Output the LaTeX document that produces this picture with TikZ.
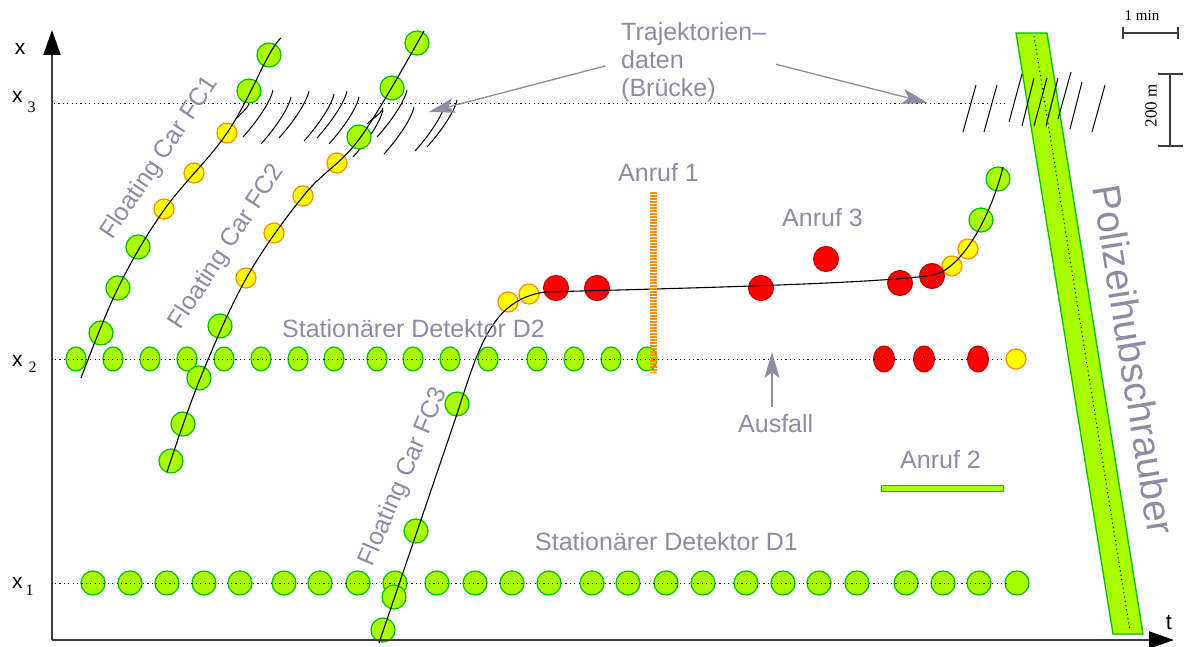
\documentclass[tikz,border=0pt]{standalone}
\usepackage{fontspec}
\setmainfont{Liberation Sans}
\newfontfamily\seriffam{Liberation Serif}
\usetikzlibrary{arrows.meta,shapes.geometric}
\definecolor{gfill}{RGB}{170,255,0}
\definecolor{gline}{RGB}{0,190,0}
\definecolor{yfill}{RGB}{255,255,0}
\definecolor{yline}{RGB}{255,140,0}
\definecolor{rfill}{RGB}{255,0,0}
\definecolor{rline}{RGB}{180,0,0}
\definecolor{lblgray}{RGB}{140,140,162}
\definecolor{axisgray}{RGB}{60,60,60}
\begin{document}
\begin{tikzpicture}[x=1pt,y=-1pt,
  gdot/.style={circle,draw=gline,fill=gfill,line width=1.2pt,minimum size=24pt,inner sep=0pt},
  ydot/.style={circle,draw=yline,fill=yfill,line width=1.2pt,minimum size=20pt,inner sep=0pt},
  rdot/.style={circle,draw=rline,fill=rfill,line width=1pt,minimum size=25pt,inner sep=0pt},
  gell/.style={ellipse,draw=gline,fill=gfill,line width=1.2pt,minimum width=20pt,minimum height=24pt,inner sep=0pt},
  rell/.style={ellipse,draw=rline,fill=rfill,line width=1pt,minimum width=21pt,minimum height=26pt,inner sep=0pt},
  lbl/.style={text=lblgray,font=\fontsize{25}{28}\selectfont,inner sep=0pt},
  axlbl/.style={text=black,font=\fontsize{21}{21}\selectfont,inner sep=0pt},
  dotline/.style={line width=1pt,dash pattern=on 1.2pt off 3.2pt},
  hatch/.style={line width=1pt},
  trajline/.style={line width=1.1pt},
  axis/.style={line width=2pt,draw=axisgray,-{Triangle[length=25pt,width=17pt,color=black]}},
  garrow/.style={draw=lblgray,line width=1.3pt,-{Stealth[length=26pt,width=15pt,inset=6pt]}},
  scalebar/.style={draw=axisgray,line width=1.3pt},
  heli/.style={draw=gline,fill=gfill,line width=1.3pt}
]
\useasboundingbox (0,0) rectangle (1186,647);

% helicopter
\filldraw[heli] (1016,33) -- (1047,33) -- (1143,634) -- (1113,634) -- cycle;
\draw[dotline] (1034,36) -- (1130,631);

% trajectory hatches (bridge)
\foreach \hx/\hy in {243/137,261/144,279/138,304/141,317/138,329/144,353/157,377/137,384/154,415/151,427/147}
  \draw[hatch] (\hx,\hy) .. controls +(10,-11) and +(-3,14) .. +(30,-47);
\draw[hatch] (237,118) .. controls +(4,-5) and +(-2,5) .. (249,104);
\draw[hatch] (367,124) .. controls +(5,-5) and +(-2,6) .. (383,108);
\foreach \ax/\ay/\bx/\by in {963/132/976/85,984/132/997/85,1009/122/1022/74,1022/126/1034/78,1034/126/1047/78,1046/126/1058/78,1058/119/1071/72,1070/129/1082/82,1092/132/1105/85}
  \draw[hatch] (\ax,\ay) -- (\bx,\by);

% detector D1 (x1)
\foreach \x [count=\i] in {93,130,167,204,240,284,320,358,395,437,475,512,549,592,628,666,703,746,783,819,857,906,943,979,1017}
  \node[gdot] (da\i) at (\x,583) {};
% detector D2 (x2)
\foreach \x [count=\i] in {76,113,150,187,224,261,298,334,377,413,450,488,537,574,611,647}
  \node[gell] (db\i) at (\x,359) {};
\foreach \x [count=\i] in {884,924,978}
  \node[rell] (dr\i) at (\x,359) {};
\node[ydot] (dy1) at (1016,359) {};

% FC1
\foreach \x/\y [count=\i] in {101/333,118/288,138/247,249/91,269/55}
  \node[gdot] (fa\i) at (\x,\y) {};
\foreach \x/\y [count=\i] in {164/209,194/173,227/133}
  \node[ydot] (fay\i) at (\x,\y) {};
% FC2
\foreach \x/\y [count=\i] in {171/461,183/424,199/378,220/326,359/137,392/88,417/43}
  \node[gdot] (fb\i) at (\x,\y) {};
\foreach \x/\y [count=\i] in {246/278,274/233,303/196,337/163}
  \node[ydot] (fby\i) at (\x,\y) {};
% FC3
\foreach \x/\y [count=\i] in {383/630,394/597,416/531,457/404,981/220,998/179}
  \node[gdot] (fc\i) at (\x,\y) {};
\foreach \x/\y [count=\i] in {508/302,529/294,952/266,968/249}
  \node[ydot] (fcy\i) at (\x,\y) {};
\foreach \x/\y [count=\i] in {556/288,597/288,761/288,826/259,900/283,932/276}
  \node[rdot] (fcr\i) at (\x,\y) {};

% trajectories
\draw[trajline] plot[smooth,tension=0.6] coordinates {(81,378) (118,288) (164,210) (227,133) (269,55) (281,38)};
\draw[trajline] plot[smooth,tension=0.6] coordinates {(167,472) (200,379) (247,277) (305,194) (360,138) (424,31)};
\draw[trajline] (379,643) -- (455,420) .. controls (478,350) and (490,300) .. (545,292)
  .. controls (650,289) and (880,284) .. (933,275) .. controls (960,270) and (990,220) .. (1003,167);

% position lines
\draw[dotline] (55,583) -- (1008,583);
\draw[dotline] (55,359) -- (1005,359);
\draw[dotline] (54,104) -- (1005,104);

% Anruf 1 marker
\draw[draw=yline,line width=7pt,dash pattern=on 1.6pt off 1.4pt] (653.5,192) -- (653.5,373);
% Anruf 2 marker
\node[draw=gline,fill=gfill,line width=1.2pt,minimum width=122pt,minimum height=6pt,inner sep=0pt] (anruf2bar) at (942.5,488.5) {};

% axes
\coordinate (O) at (52,640);
\coordinate (Xtip) at (52,30);
\coordinate (Ttip) at (1174,640);
\draw[axis] (O) -- (Xtip);
\draw[axis] (O) -- (Ttip);
\node[axlbl] (xlab) at (20,49) {x};
\node[axlbl,anchor=base west] (x3lab) at (12,103) {x\hspace{5pt}\raisebox{-10pt}{\seriffam\fontsize{16}{16}\selectfont 3}};
\node[axlbl,anchor=base west] (x2lab) at (12,366) {x\hspace{6pt}\raisebox{-6pt}{\seriffam\fontsize{16}{16}\selectfont 2}};
\node[axlbl,anchor=base west] (x1lab) at (12,588) {x\hspace{3pt}\raisebox{-7pt}{\seriffam\fontsize{16}{16}\selectfont 1}};
\node[axlbl,font=\fontsize{22}{22}\selectfont] (tlab) at (1169,622) {t};

% scale bars
\draw[scalebar] (1123,27) -- (1123,39);
\draw[scalebar] (1178,27) -- (1178,39);
\draw[scalebar] (1123,33) -- (1178,33);
\node[inner sep=0pt,font=\seriffam\fontsize{15}{15}\selectfont] (minlab) at (1142,16) {1 min};
\draw[scalebar] (1158,74) -- (1183,74);
\draw[scalebar] (1158,146) -- (1183,146);
\draw[scalebar] (1170,74) -- (1170,146);
\node[inner sep=0pt,rotate=90,font=\seriffam\fontsize{17}{17}\selectfont] (mlab) at (1151,106) {200 m};

% labels
\node[lbl,anchor=north west,align=left] (traj) at (621,22) {Trajektorien--\\daten\\(Brücke)};
\coordinate (tdL) at (429,112);
\coordinate (tdR) at (928,103);
\draw[garrow,shorten <=16pt] (traj.west) -- (tdL);
\draw[garrow,shorten <=10pt] (traj.east) -- (tdR);

\node[lbl,anchor=base west] (anruf1) at (618,182) {Anruf 1};
\node[lbl,anchor=base west] (anruf3) at (782,227) {Anruf 3};
\node[lbl,anchor=base west] (anruf2) at (900,468) {Anruf 2};
\node[lbl,anchor=base west] (ausfall) at (738,432) {Ausfall};
\coordinate (ausTip) at (772,352);
\draw[garrow,shorten <=7pt] (ausTip |- ausfall.north) -- (ausTip);
\node[lbl,anchor=base west] (d2) at (282,337) {Stationärer Detektor D2};
\node[lbl,anchor=base west] (d1) at (535,550) {Stationärer Detektor D1};
\node[lbl,rotate=56] (fc1lab) at (160,158) {Floating Car FC1};
\node[lbl,rotate=57] (fc2lab) at (227,247) {Floating Car FC2};
\node[lbl,rotate=67] (fc3lab) at (404,477) {Floating Car FC3};
\node[lbl,rotate=-80.8,font=\fontsize{39}{39}\selectfont] (heli) at (1134,360) {Polizeihubschrauber};
\end{tikzpicture}
\end{document}
